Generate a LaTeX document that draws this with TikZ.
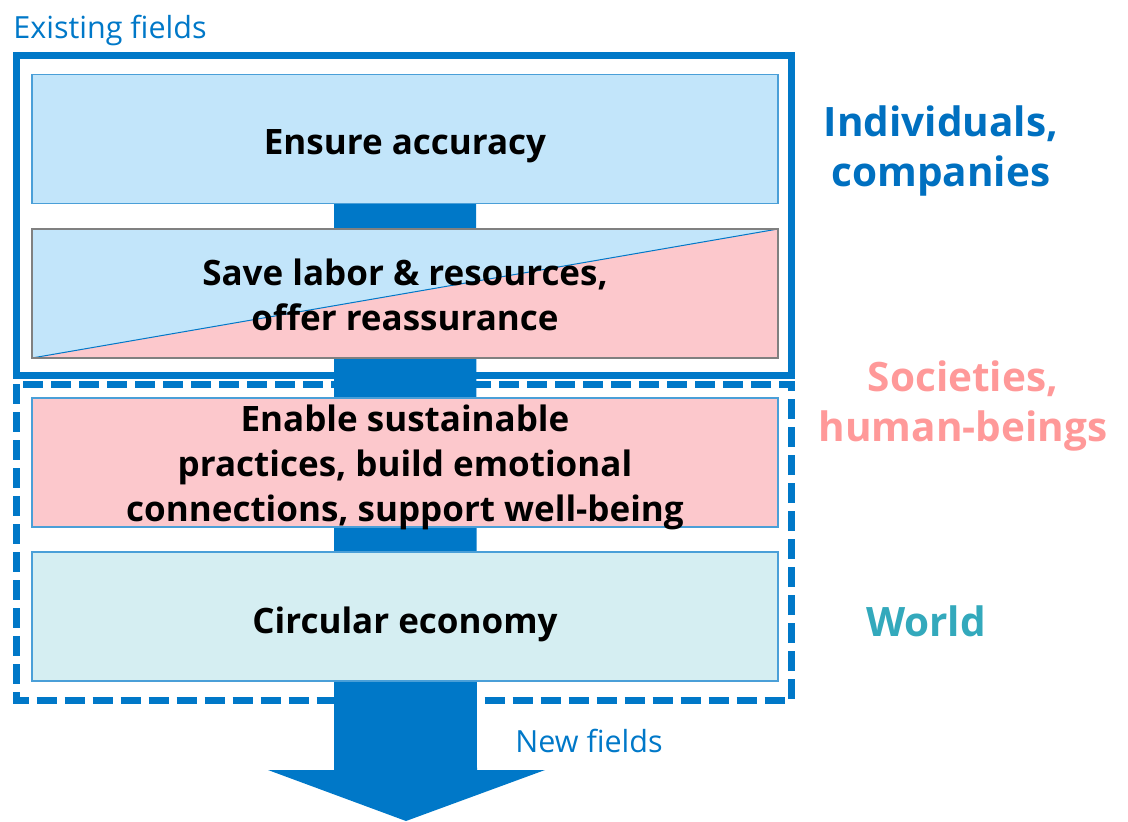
\documentclass[tikz,border=0pt]{standalone}
\usepackage{fontspec}
\setmainfont{Open Sans}
\usepackage{tikz}
\usetikzlibrary{positioning,calc,backgrounds}

\definecolor{frameblue}{HTML}{0078C8}
\definecolor{edgeblue}{HTML}{4A9FD8}
\definecolor{skyfill}{HTML}{C2E5FA}
\definecolor{rosefill}{HTML}{FCC8CC}
\definecolor{aquafill}{HTML}{D5EEF2}
\definecolor{labelblue}{HTML}{0070C0}
\definecolor{labelpink}{HTML}{FF9999}
\definecolor{labelteal}{HTML}{33A9BC}

% stage text, set a little lower than the centre of its box
\newcommand{\stagetext}[2][6pt]{\raisebox{-#1}[\height][\depth]{\parbox{740pt}{\centering #2}}}

\begin{document}
\begin{tikzpicture}[x=1pt, y=-1pt,
    stage/.style={draw=edgeblue, line width=1.2pt, minimum width=746pt, minimum height=129pt,
                  inner sep=0pt, align=center, font=\fontsize{35}{45}\selectfont\bfseries},
    side/.style={align=center, font=\fontsize{40.5}{50}\selectfont\bfseries},
    field/.style={text=frameblue, font=\fontsize{30.5}{34}\selectfont}]
    \useasboundingbox (0,0) rectangle (1128,822);

    % Stages
    \node[stage, fill=skyfill] (ensure) at (405,139) {\stagetext[7pt]{Ensure accuracy}};
    \node[stage, draw=gray, path picture={
            \fill[skyfill] (path picture bounding box.south west) |- (path picture bounding box.north east) -- cycle;
            \fill[rosefill] (path picture bounding box.south west) -| (path picture bounding box.north east) -- cycle;
            \draw[frameblue, line width=1pt] (path picture bounding box.south west) -- (path picture bounding box.north east);
         }] (save) at (405,293.5) {\stagetext[1pt]{Save labor \& resources,\\offer reassurance}};
    \node[stage, fill=rosefill] (enable) at (405,462.5) {\stagetext[5pt]{Enable sustainable\\practices, build emotional\\connections, support well-being}};
    \node[stage, fill=aquafill] (circular) at (405,616.5) {\stagetext[8pt]{Circular economy}};

    % Frames and arrow
    \begin{scope}[on background layer]
        \draw[frameblue, line width=7pt] (16.5,55.5) rectangle (791.5,375);
        \draw[frameblue, line width=7pt, dash pattern=on 20pt off 8pt] (16.5,384) rectangle (791.5,700);
        \coordinate (tip) at (406,821);
        \fill[frameblue] ($(ensure.south)+(-71,0)$) -- ($(ensure.south)+(71,0)$) -- ($(tip)+(71,-51)$)
            -- ($(tip)+(139,-51)$) -- (tip) -- ($(tip)+(-138,-51)$) -- ($(tip)+(-72,-51)$) -- cycle;
    \end{scope}

    % Labels
    \node[field] (existing) at (110,30) {Existing fields};
    \node[field] (newfields) at (589,741) {New fields};
    \node[side, text=labelblue] (indiv) at (941,151) {Individuals,\\companies};
    \node[side, text=labelpink] (society) at (963,406) {Societies,\\human-beings};
    \node[side, text=labelteal] (world) at (926,621) {World};
\end{tikzpicture}
\end{document}
